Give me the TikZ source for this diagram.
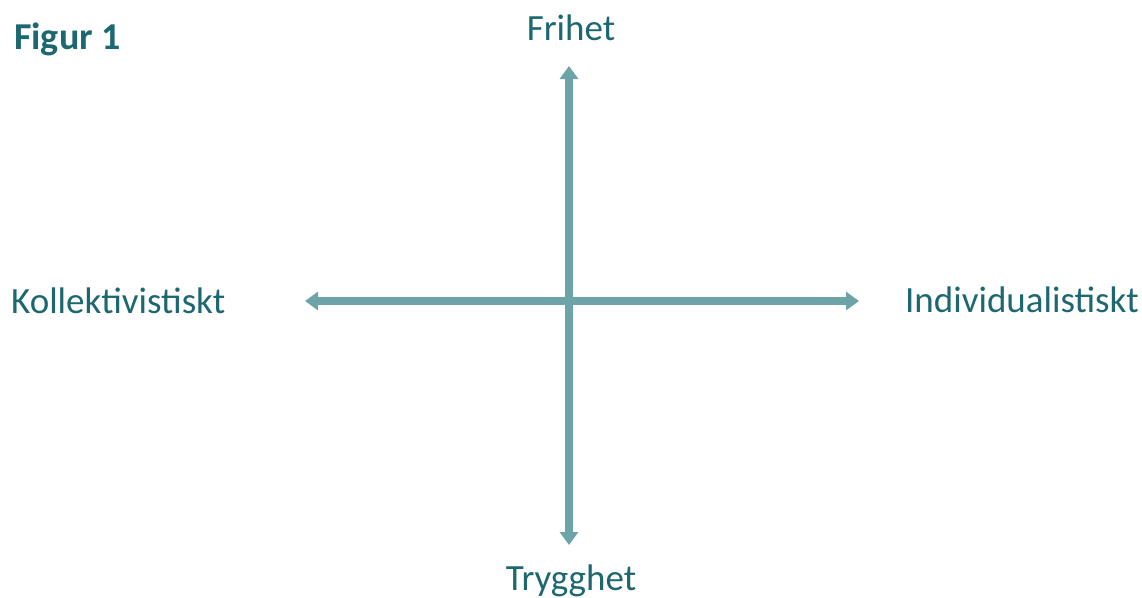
\documentclass[tikz,border=0pt]{standalone}
\usepackage{fontspec}
\setmainfont{Carlito}
\usetikzlibrary{arrows.meta}
\definecolor{tealtext}{HTML}{1D6870}
\definecolor{axisfill}{HTML}{6DA4A8}
\tikzset{
  lbl/.style={text=tealtext, font=\fontsize{37}{44}\selectfont, inner sep=0pt, anchor=base},
  axis/.style={draw=axisfill, line width=8pt, {Triangle[width=18pt,length=13pt]}-{Triangle[width=18pt,length=13pt]}}
}
\begin{document}
\begin{tikzpicture}[x=1pt,y=-1pt]
\useasboundingbox (0,0) rectangle (1142,597);
\node[lbl, anchor=base west, font=\bfseries\fontsize{38}{44}\selectfont] (fig) at (14,49) {Figur 1};
\node[lbl] (fri) at (571,40) {Frihet};
\node[lbl] (try) at (571,590) {Trygghet};
\node[lbl, anchor=base west] (kol) at (11,313) {Kollektivistiskt};
\node[lbl, anchor=base east] (ind) at (1139,312) {Individualistiskt};
\coordinate (top) at (569,66);
\coordinate (bot) at (569,545);
\coordinate (lft) at (305,301);
\coordinate (rgt) at (859,301);
\draw[axis] (bot) -- (top);
\draw[axis] (lft) -- (rgt);
\end{tikzpicture}
\end{document}
